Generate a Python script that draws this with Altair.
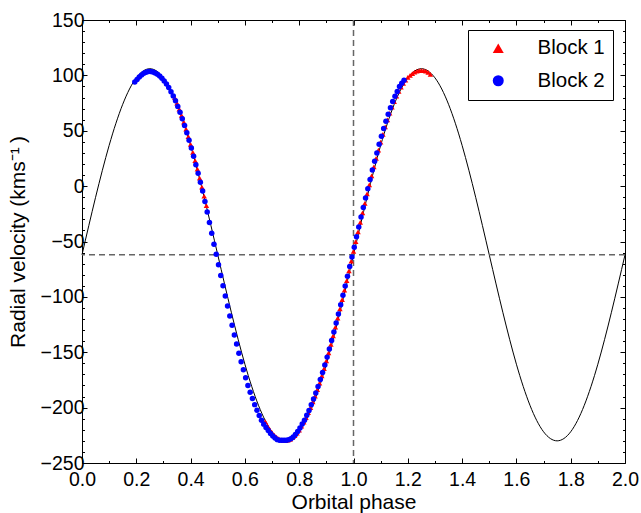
import altair as alt
import pandas as pd

# Fitted orbit (phase, km/s), sampled every 0.025 in phase
model_phase = [
    0.000, 0.025, 0.050, 0.075, 0.100, 0.125, 0.150, 0.175, 0.200, 0.225,
    0.250, 0.275, 0.300, 0.325, 0.350, 0.375, 0.400, 0.425, 0.450, 0.475,
    0.500, 0.525, 0.550, 0.575, 0.600, 0.625, 0.650, 0.675, 0.700, 0.725,
    0.750, 0.775, 0.800, 0.825, 0.850, 0.875, 0.900, 0.925, 0.950, 0.975,
    1.000, 1.025, 1.050, 1.075, 1.100, 1.125, 1.150, 1.175, 1.200, 1.225,
    1.250, 1.275, 1.300, 1.325, 1.350, 1.375, 1.400, 1.425, 1.450, 1.475,
    1.500, 1.525, 1.550, 1.575, 1.600, 1.625, 1.650, 1.675, 1.700, 1.725,
    1.750, 1.775, 1.800, 1.825, 1.850, 1.875, 1.900, 1.925, 1.950, 1.975,
    2.000,
]
model_rv = [
    -62.0, -35.7, -10.1, 14.3, 36.8, 56.8, 73.9, 87.7, 97.8, 103.9,
    106.0, 103.9, 97.8, 87.7, 73.9, 56.8, 36.8, 14.3, -10.1, -35.7,
    -62.0, -88.3, -113.9, -138.3, -160.8, -180.8, -197.9, -211.7, -221.8, -227.9,
    -230.0, -227.9, -221.8, -211.7, -197.9, -180.8, -160.8, -138.3, -113.9, -88.3,
    -62.0, -35.7, -10.1, 14.3, 36.8, 56.8, 73.9, 87.7, 97.8, 103.9,
    106.0, 103.9, 97.8, 87.7, 73.9, 56.8, 36.8, 14.3, -10.1, -35.7,
    -62.0, -88.3, -113.9, -138.3, -160.8, -180.8, -197.9, -211.7, -221.8, -227.9,
    -230.0, -227.9, -221.8, -211.7, -197.9, -180.8, -160.8, -138.3, -113.9, -88.3,
    -62.0,
]

# Systemic velocity and reference phase (dashed guides)
gamma_rv = [-62.0]
ref_phase = [1.0]

# Block 1 measurements
b1_phase = [
    0.3417, 0.3500, 0.3583, 0.3667, 0.3750, 0.3833, 0.3917, 0.4000, 0.4083, 0.4167,
    0.4250, 0.4333, 0.4417, 0.4500, 0.4583,
    0.6750, 0.6833, 0.6917, 0.7000, 0.7083, 0.7167, 0.7250, 0.7333, 0.7417, 0.7500,
    0.7583, 0.7667, 0.7750, 0.7833, 0.7917, 0.8000, 0.8083, 0.8167, 0.8250, 0.8333,
    0.8417, 0.8500, 0.8583, 0.8667, 0.8750, 0.8833, 0.8917, 0.9000, 0.9083, 0.9167,
    0.9250, 0.9333, 0.9417, 0.9500, 0.9583, 0.9667, 0.9750, 0.9833, 0.9917, 1.0000,
    1.0083, 1.0167, 1.0250, 1.0333, 1.0417, 1.0500, 1.0583, 1.0667, 1.0750, 1.0833,
    1.0917, 1.1000, 1.1083, 1.1167, 1.1250, 1.1333, 1.1417, 1.1500, 1.1583, 1.1667,
    1.1750, 1.1833, 1.1917, 1.2000, 1.2083, 1.2167, 1.2250, 1.2333, 1.2417, 1.2500,
    1.2583, 1.2667, 1.2750, 1.2833,
]
b1_rv = [
    79.9, 74.9, 69.6, 63.8, 57.8, 51.4, 44.7, 37.8, 30.5, 23.0,
    15.3, 7.3, -0.8, -9.1, -17.5,
    -212.7, -216.5, -219.8, -222.5, -224.8, -226.6, -228.1, -229.1, -229.6, -229.7,
    -229.4, -228.6, -227.2, -225.3, -223.0, -220.3, -216.8, -213.0, -209.0, -204.5,
    -199.9, -194.9, -189.6, -183.8, -177.8, -171.4, -164.7, -157.8, -150.5, -143.0,
    -135.3, -127.3, -119.2, -110.9, -102.5, -93.9, -85.3, -76.6, -67.8, -59.0,
    -50.2, -41.4, -32.7, -24.1, -15.5, -7.1, 1.2, 9.3, 17.3, 25.0,
    32.5, 39.8, 46.7, 53.4, 59.8, 65.8, 71.3, 76.4, 81.2, 85.5,
    89.4, 92.8, 95.6, 98.2, 100.0, 101.6, 102.9, 103.8, 104.3, 104.5,
    104.3, 103.8, 102.6, 101.0,
]

# Block 2 measurements
b2_phase = [
    0.1944, 0.2028, 0.2111, 0.2194, 0.2278, 0.2361, 0.2444, 0.2528, 0.2611, 0.2694,
    0.2778, 0.2861, 0.2944, 0.3028, 0.3111, 0.3194, 0.3278, 0.3361, 0.3444, 0.3528,
    0.3611, 0.3694, 0.3778, 0.3861, 0.3944, 0.4028, 0.4111, 0.4194, 0.4278, 0.4361,
    0.4444, 0.4528, 0.4611, 0.4694, 0.4778, 0.4861, 0.4944, 0.5028, 0.5111, 0.5194,
    0.5278, 0.5361, 0.5444, 0.5528, 0.5611, 0.5694, 0.5778, 0.5861, 0.5944, 0.6028,
    0.6111, 0.6194, 0.6278, 0.6361, 0.6444, 0.6528, 0.6611, 0.6694, 0.6778, 0.6861,
    0.6944, 0.7028, 0.7111, 0.7194, 0.7278, 0.7361, 0.7444, 0.7528, 0.7611, 0.7694,
    0.7778, 0.7861, 0.7944, 0.8028, 0.8111, 0.8194, 0.8278, 0.8361, 0.8444, 0.8528,
    0.8611, 0.8694, 0.8778, 0.8861, 0.8944, 0.9028, 0.9111, 0.9194, 0.9278, 0.9361,
    0.9444, 0.9528, 0.9611, 0.9694, 0.9778, 0.9861, 0.9944, 1.0028, 1.0111, 1.0194,
    1.0278, 1.0361, 1.0444, 1.0528, 1.0611, 1.0694, 1.0778, 1.0861, 1.0944, 1.1028,
    1.1111, 1.1194, 1.1278, 1.1361, 1.1444, 1.1528, 1.1611, 1.1694, 1.1778, 1.1861,
]
b2_rv = [
    94.0, 96.2, 98.5, 100.4, 101.9, 102.9, 103.4, 103.5, 103.1, 102.2,
    101.0, 99.5, 97.5, 95.0, 92.3, 89.0, 85.3, 81.3, 77.0, 72.0,
    66.7, 60.9, 54.7, 48.2, 41.4, 34.4, 27.0, 19.4, 11.7, 3.6,
    -4.5, -13.9, -23.4, -32.9, -42.6, -52.4, -61.6, -70.9, -80.7, -90.0,
    -99.2, -108.3, -117.3, -125.7, -134.4, -142.5, -150.9, -158.5, -165.9, -173.1,
    -180.0, -186.1, -191.8, -197.3, -202.4, -207.1, -211.5, -214.9, -218.0, -220.6,
    -223.4, -225.7, -227.5, -228.9, -229.4, -229.4, -229.5, -229.5, -229.0, -228.0,
    -226.5, -224.2, -221.5, -218.3, -214.8, -211.3, -206.8, -202.5, -197.3, -192.2,
    -186.7, -180.9, -174.7, -168.2, -161.4, -154.4, -147.0, -139.4, -131.7, -123.6,
    -115.5, -107.1, -98.6, -90.1, -81.4, -72.6, -63.9, -55.1, -45.8, -37.0,
    -27.8, -19.2, -10.7, -2.3, 5.9, 14.5, 22.4, 30.0, 37.9, 45.1,
    52.0, 58.6, 64.8, 70.8, 76.4, 81.1, 85.5, 89.9, 93.0, 95.6,
]

blocks = ["Block 1", "Block 2"]
block_colors = ["#ff0000", "#0000ff"]
block_shapes = ["triangle-up", "circle"]

# Tick positions
x_major = [0.0, 0.2, 0.4, 0.6, 0.8, 1.0, 1.2, 1.4, 1.6, 1.8, 2.0]
x_minor = [0.1, 0.3, 0.5, 0.7, 0.9, 1.1, 1.3, 1.5, 1.7, 1.9]
y_major = [-250, -200, -150, -100, -50, 0, 50, 100, 150]
y_minor = [v for v in range(-240, 150, 10) if v % 50 != 0]

W, H = 543, 443
FONT = "Liberation Sans"

model_df = pd.DataFrame({"phase": model_phase, "rv": model_rv})
points_df = pd.concat(
    [
        pd.DataFrame({"phase": b1_phase, "rv": b1_rv, "block": blocks[0]}),
        pd.DataFrame({"phase": b2_phase, "rv": b2_rv, "block": blocks[1]}),
    ],
    ignore_index=True,
)

x_scale = alt.Scale(domain=[0, 2], nice=False, zero=False)
y_scale = alt.Scale(domain=[-250, 150], nice=False, zero=False)

x_main = alt.Axis(
    orient="bottom", values=x_major, format=".1f", ticks=False, tickSize=0,
    domain=False, grid=False, labelFontSize=19.5, labelPadding=7,
    labelFlush=False, labelOverlap=False,
    title="Orbital phase", titleFontSize=21, titleX=W / 2, titleY=45,
    titleAlign="center", titleBaseline="alphabetic",
)
y_main = alt.Axis(
    orient="left", values=y_major, format="d", ticks=False, tickSize=0,
    domain=False, grid=False, labelFontSize=19.5, labelPadding=-2,
    labelFlush=False, labelOverlap=False,
    title="Radial velocity (kms\u207b\u00b9\u2009)", titleFontSize=21,
    titleX=-58, titleY=H / 2, titleAngle=270, titleAlign="center",
    titleBaseline="alphabetic",
)


def inner_ticks(orient, values, size, offset):
    # Axis that only draws ticks, shifted onto the opposite frame edge so
    # the ticks point into the plot.
    return alt.Axis(
        orient=orient, values=values, tickSize=size, offset=offset,
        labels=False, domain=False, grid=False, title=None,
        tickColor="black", tickWidth=1,
    )


curve = alt.Chart(model_df).mark_line(
    color="black", strokeWidth=1, interpolate="monotone"
).encode(
    x=alt.X("phase:Q", scale=x_scale, axis=x_main),
    y=alt.Y("rv:Q", scale=y_scale, axis=y_main),
)

dash = dict(color="#666666", strokeWidth=1.5, strokeDash=[6, 4])
h_rule = alt.Chart(pd.DataFrame({"rv": gamma_rv})).mark_rule(**dash).encode(
    y=alt.Y("rv:Q", scale=y_scale, axis=None)
)
v_rule = alt.Chart(pd.DataFrame({"phase": ref_phase})).mark_rule(**dash).encode(
    x=alt.X("phase:Q", scale=x_scale, axis=None)
)

legend = alt.Legend(
    title=None, orient="none", legendX=386, legendY=10,
    padding=8, strokeColor="black", fillColor="white", cornerRadius=0,
    symbolSize=121, symbolOffset=12, symbolStrokeWidth=0,
    labelOffset=29, labelFontSize=20.5, labelFont=FONT, labelColor="black",
    rowPadding=11.5,
)
points = alt.Chart(points_df).mark_point(filled=True, size=30, opacity=1).encode(
    x=alt.X("phase:Q", scale=x_scale, axis=None),
    y=alt.Y("rv:Q", scale=y_scale, axis=None),
    color=alt.Color("block:N", scale=alt.Scale(domain=blocks, range=block_colors), legend=legend),
    shape=alt.Shape("block:N", scale=alt.Scale(domain=blocks, range=block_shapes), legend=legend),
)


def tick_layer(xo, yo, xv, yv, size, xoff, yoff):
    return alt.Chart(model_df).mark_point(opacity=0, size=1).encode(
        x=alt.X("phase:Q", scale=x_scale, axis=inner_ticks(xo, xv, size, xoff)),
        y=alt.Y("rv:Q", scale=y_scale, axis=inner_ticks(yo, yv, size, yoff)),
    )


ticks = [
    tick_layer("top", "right", x_major, y_major, 5, -H, -W),
    tick_layer("top", "right", x_minor, y_minor, 2.5, -H, -W),
    tick_layer("bottom", "left", x_major, y_major, 5, -H, -W),
    tick_layer("bottom", "left", x_minor, y_minor, 2.5, -H, -W),
]

chart = (
    alt.layer(curve, h_rule, v_rule, points, *ticks)
    .resolve_axis(x="independent", y="independent")
    .properties(
        width=W, height=H,
        padding={"left": 82, "top": 20, "right": 16, "bottom": 50},
        autosize=alt.AutoSizeParams(type="none"),
        background="white",
    )
    .configure_view(stroke="black", strokeWidth=1)
    .configure_axis(labelFont=FONT, titleFont=FONT, labelColor="black",
                    titleColor="black", titleFontWeight="normal")
)

chart.save("out.html", embed_options={"renderer": "svg", "actions": False})
